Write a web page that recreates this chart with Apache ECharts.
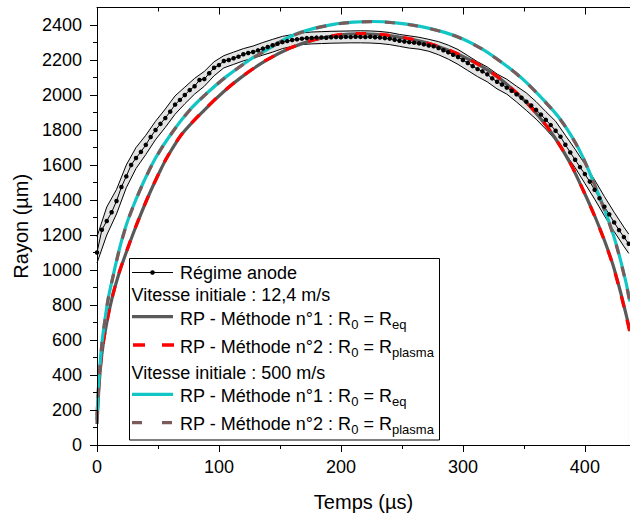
<!DOCTYPE html>
<html><head><meta charset="utf-8">
<script src="https://cdn.jsdelivr.net/npm/echarts/dist/echarts.min.js"></script>
<style>html,body{margin:0;padding:0;background:#fff}#c{width:630px;height:520px}</style>
</head><body><div id="c"></div>
<script>
// ---------- DATA ----------
const xMajor = [0, 100, 200, 300, 400];
const xMinor = [50, 150, 250, 350];
const yMajor = [0, 200, 400, 600, 800, 1000, 1200, 1400, 1600, 1800, 2000, 2200, 2400];
const yMinor = [100, 300, 500, 700, 900, 1100, 1300, 1500, 1700, 1900, 2100, 2300];

const anodeTime = [0,4,8,12,16,20,24,28,32,36,40,44,48,52,56,60,64,68,72,76,80,84,88,92,96,100,104,108,112,116,120,124,128,132,136,140,144,148,152,156,160,164,168,172,176,180,184,188,192,196,200,204,208,212,216,220,224,228,232,236,240,244,248,252,256,260,264,268,272,276,280,284,288,292,296,300,304,308,312,316,320,324,328,332,336,340,344,348,352,356,360,364,368,372,376,380,384,388,392,396,400,404,408,412,416,420,424,428,432,436];
const anodeRadius = [1100,1230,1280,1330,1394,1474,1535,1600,1640,1675,1715,1760,1800,1835,1868,1905,1945,1972,2000,2028,2050,2086,2091,2124,2156,2171,2194,2200,2210,2219,2233,2240,2246,2255,2265,2274,2284,2293,2302,2308,2314,2318,2322,2325,2326,2328,2329,2327,2330,2331,2330,2332,2331,2333,2332,2331,2333,2330,2328,2325,2322,2316,2310,2306,2302,2299,2295,2289,2283,2278,2268,2256,2244,2230,2217,2200,2183,2165,2148,2135,2118,2095,2076,2060,2042,2024,2004,1984,1962,1940,1915,1888,1858,1828,1796,1762,1716,1672,1630,1588,1548,1505,1458,1410,1362,1318,1272,1228,1188,1150];

const bandTime = [0,8,16,24,32,40,48,56,64,72,80,88,96,104,112,120,128,136,144,152,160,168,176,184,192,200,208,216,224,232,240,248,256,264,272,280,288,296,304,312,320,328,336,344,352,360,368,376,384,392,400,408,416,424,432,436];
const bandLow  = [1040,1200,1320,1470,1580,1660,1745,1815,1890,1950,2005,2050,2110,2155,2175,2195,2210,2228,2245,2265,2278,2288,2292,2294,2296,2297,2298,2298,2297,2294,2288,2278,2268,2262,2250,2230,2205,2175,2140,2105,2075,2035,2005,1960,1912,1862,1805,1742,1665,1585,1495,1405,1310,1220,1135,1095];
const bandHigh = [1190,1360,1460,1600,1700,1770,1850,1920,1995,2045,2095,2135,2190,2225,2245,2265,2280,2300,2318,2335,2345,2355,2360,2362,2364,2365,2366,2367,2366,2363,2357,2346,2338,2330,2318,2305,2285,2260,2225,2190,2160,2120,2090,2050,2012,1962,1905,1850,1770,1690,1605,1515,1420,1330,1245,1205];

// Vitesse initiale 12,4 m/s
const slowTime = [0,1,2,4,7,12,18,25,32,42,52,58,70,88,104,119,138,158,178,198,218,238,258,278,297,315,330,348,362,375,388,399,408,416,423,429,434,437];
const rp1Slow  = [120,260,370,520,660,829,980,1120,1250,1420,1570,1650,1780,1914,2020,2105,2195,2267,2315,2343,2350,2341,2318,2282,2230,2165,2095,1985,1880,1760,1610,1450,1310,1170,1030,880,740,650];
const rp2Slow  = [170,290,390,530,665,832,982,1122,1252,1421,1571,1651,1781,1915,2021,2106,2196,2268,2316,2344,2351,2342,2319,2283,2231,2166,2096,1986,1881,1761,1611,1450,1308,1168,1026,874,732,640];

// Vitesse initiale 500 m/s
const fastTime = [0,1,2,4,6,9,13,18,24,30,38,48,60,76,90,106,125,140,158,175,195,210,226,245,265,285,300,316,335,350,367,380,392,400,409,418,426,433,437];
const rp1Fast  = [150,300,420,580,690,830,960,1110,1257,1370,1500,1640,1770,1914,2010,2105,2200,2262,2333,2375,2405,2416,2420,2412,2392,2358,2320,2262,2170,2085,1965,1860,1730,1620,1470,1310,1140,950,820];
const rp2Fast  = [140,290,415,576,688,828,958,1108,1255,1369,1499,1639,1769,1913,2009,2104,2199,2261,2332,2374,2404,2415,2419,2411,2391,2357,2319,2261,2169,2084,1964,1859,1729,1618,1468,1307,1136,945,812];

// ---------- BUILD ----------
const pairs = (xs, ys) => xs.map((x, i) => [x, ys[i]]);
const FONT = "'Liberation Sans', Arial, Helvetica, sans-serif";
const XMAX = 437;

const chart = echarts.init(document.getElementById('c'), null, {renderer: 'svg'});

const tickStyle = {color: '#000', width: 1};
const plain = v => String(v);
const xAxes = [
  {gridIndex:0, type:'value', min:0, max:XMAX, position:'bottom',
   axisLine:{show:true, onZero:false, lineStyle:tickStyle},
   axisTick:{show:true, inside:false, length:7, customValues:xMajor, lineStyle:tickStyle},
   axisLabel:{show:true, customValues:xMajor, formatter:plain, margin:13, color:'#000', fontSize:18, fontFamily:FONT},
   splitLine:{show:false},
   name:'Temps (µs)', nameLocation:'middle', nameGap:47,
   nameTextStyle:{color:'#000', fontSize:20, fontFamily:FONT}, z:10},
  {gridIndex:0, type:'value', min:0, max:XMAX, position:'bottom',
   axisLine:{show:false, onZero:false},
   axisTick:{show:true, inside:false, length:4, customValues:xMinor, lineStyle:tickStyle},
   axisLabel:{show:false}, splitLine:{show:false}, z:10},
  {gridIndex:0, type:'value', min:0, max:XMAX, position:'top',
   axisLine:{show:true, onZero:false, lineStyle:tickStyle},
   axisTick:{show:true, inside:true, length:7, customValues:xMajor, lineStyle:tickStyle},
   axisLabel:{show:false}, splitLine:{show:false}, z:10},
  {gridIndex:0, type:'value', min:0, max:XMAX, position:'top',
   axisLine:{show:false, onZero:false},
   axisTick:{show:true, inside:true, length:4, customValues:xMinor, lineStyle:tickStyle},
   axisLabel:{show:false}, splitLine:{show:false}, z:10}
];
const yAxes = [
  {gridIndex:0, type:'value', min:0, max:2500, position:'left',
   axisLine:{show:true, onZero:false, lineStyle:tickStyle},
   axisTick:{show:true, inside:false, length:7, customValues:yMajor, lineStyle:tickStyle},
   axisLabel:{show:true, customValues:yMajor, formatter:plain, margin:15, color:'#000', fontSize:18, fontFamily:FONT},
   splitLine:{show:false},
   name:'Rayon (µm)', nameLocation:'middle', nameGap:53, nameRotate:90,
   nameTextStyle:{color:'#000', fontSize:20, fontFamily:FONT}, z:10},
  {gridIndex:0, type:'value', min:0, max:2500, position:'left',
   axisLine:{show:false, onZero:false},
   axisTick:{show:true, inside:false, length:4, customValues:yMinor, lineStyle:tickStyle},
   axisLabel:{show:false}, splitLine:{show:false}, z:10}
];

const series = [
  // upper bound of the uncertainty band: grey fill down to the axis
  {name:'bandHigh', type:'line', data:pairs(bandTime, bandHigh), symbol:'none',
   lineStyle:{color:'#000', width:1}, areaStyle:{color:'#e4e4e4', opacity:1, origin:'start'}, silent:true, z:1},
  // lower bound: white fill hides the grey below the band
  {name:'bandLow', type:'line', data:pairs(bandTime, bandLow), symbol:'none',
   lineStyle:{color:'#000', width:1}, areaStyle:{color:'#ffffff', opacity:1, origin:'start'}, silent:true, z:1},
  {name:'Régime anode', type:'line', data:pairs(anodeTime, anodeRadius), symbol:'circle', symbolSize:4.5,
   showSymbol:true, itemStyle:{color:'#000'}, lineStyle:{color:'#000', width:1}, z:3},
  {name:'RP1 slow', type:'line', data:pairs(slowTime, rp1Slow), symbol:'none', smooth:0.3,
   lineStyle:{color:'#595959', width:3.2}, z:3},
  {name:'RP2 slow', type:'line', data:pairs(slowTime, rp2Slow), symbol:'none', smooth:0.3,
   lineStyle:{color:'#ff0000', width:3.2, type:[11,13]}, z:3},
  {name:'RP1 fast', type:'line', data:pairs(fastTime, rp1Fast), symbol:'none', smooth:0.3,
   lineStyle:{color:'#12c6c6', width:3.2}, z:3},
  {name:'RP2 fast', type:'line', data:pairs(fastTime, rp2Fast), symbol:'none', smooth:0.3,
   lineStyle:{color:'#7d5a5a', width:3.2, type:[10,13]}, z:3}
];

// ---------- LEGEND (graphic) ----------
const rich = {
  n: {fontSize:18, fontFamily:FONT, lineHeight:24, verticalAlign:'middle', color:'#000'},
  s: {fontSize:13, fontFamily:FONT, lineHeight:13, verticalAlign:'bottom', color:'#000'}
};
function txt(x, y, str) {
  return {type:'text', x:x, y:y, z:100,
    style:{text:str, rich:rich, fill:'#000', fontSize:18, fontFamily:FONT, verticalAlign:'middle', align:'left'}};
}
function seg(x1, x2, y, color, width, dash) {
  return {type:'line', z:100, shape:{x1:x1, y1:y, x2:x2, y2:y},
    style:{stroke:color, lineWidth:width, lineDash:dash || null}};
}
const graphics = [
  {type:'rect', z:99, shape:{x:129.5, y:258.5, width:310, height:181.5},
   style:{fill:'#fff', stroke:'#000', lineWidth:1}},
  seg(132, 173, 272.5, '#000', 1),
  {type:'circle', z:101, shape:{cx:152.5, cy:272.5, r:2.3}, style:{fill:'#000'}},
  txt(180, 272.5, '{n|Régime anode}'),
  txt(131.5, 295, '{n|Vitesse initiale : 12,4 m/s}'),
  seg(132, 173, 316.7, '#595959', 3.3),
  txt(180, 319, '{n|RP - Méthode n°1 : R}{s|0}{n| = R}{s|eq}'),
  seg(133, 174, 345, '#ff0000', 3.3, [12,17]),
  txt(180, 347, '{n|RP - Méthode n°2 : R}{s|0}{n| = R}{s|plasma}'),
  txt(131.5, 372.5, '{n|Vitesse initiale : 500 m/s}'),
  seg(132, 173, 394.3, '#12c6c6', 3.3),
  txt(180, 396, '{n|RP - Méthode n°1 : R}{s|0}{n| = R}{s|eq}'),
  seg(132, 174, 422.7, '#7d5a5a', 3.3, [10,20]),
  txt(180, 424.3, '{n|RP - Méthode n°2 : R}{s|0}{n| = R}{s|plasma}')
];

chart.setOption({
  animation:false,
  backgroundColor:'#fff',
  grid:{left:97, right:0, top:7.5, bottom:75, containLabel:false},
  xAxis:xAxes,
  yAxis:yAxes,
  series:series,
  graphic:graphics
});
</script>
</body></html>
